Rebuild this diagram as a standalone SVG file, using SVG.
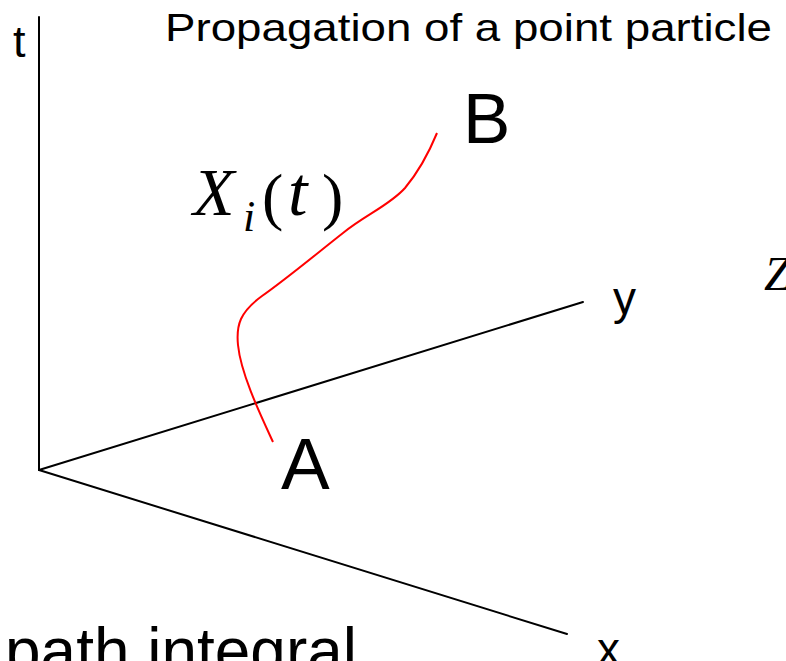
<svg xmlns="http://www.w3.org/2000/svg" width="786" height="661" viewBox="0 0 786 661">
<style>
.ax{stroke:#000;stroke-width:2;fill:none;stroke-linecap:round}
.lbl{font-family:"Liberation Sans",Arial,sans-serif;fill:#000}
.math{font-family:"Liberation Serif","Times New Roman",serif;fill:#000}
</style>
<rect width="786" height="661" fill="#fff"/>
<g id="axes">
<line class="ax" x1="39" y1="17" x2="39" y2="470"/>
<line class="ax" x1="39" y1="470" x2="583" y2="302"/>
<line class="ax" x1="39" y1="470" x2="567" y2="634"/>
</g>
<g id="path">
<path d="M273,442 C262,418 241,375 238,345 C236,325 240,312 262,296 C285,280 315,255 343,233 C365,215 390,205 405,188 C420,170 430,150 437,133" fill="none" stroke="#f00" stroke-width="2"/>
</g>
<g id="title"><text class="lbl" x="165" y="41" font-size="39" textLength="607" lengthAdjust="spacingAndGlyphs">Propagation of a point particle</text></g>
<g id="t-label"><text class="lbl" x="13" y="57" font-size="45">t</text></g>
<g id="y-label"><text class="lbl" x="613" y="314" font-size="46">y</text></g>
<g id="x-label"><text class="lbl" x="597" y="665" font-size="46">x</text></g>
<g id="B"><text class="lbl" x="463" y="143" font-size="71">B</text></g>
<g id="A"><text class="lbl" x="281" y="489" font-size="73">A</text></g>
<g id="Xi"><text class="math" font-size="64"><tspan x="193" y="215" font-style="italic" font-size="68">X</tspan><tspan x="243" y="231" font-size="44" font-style="italic">i</tspan><tspan x="262" y="218">(</tspan><tspan x="288" y="215" font-style="italic" font-size="70">t</tspan><tspan x="322" y="218">)</tspan></text></g>
<g id="Z"><text class="math" x="764" y="290" font-size="48" font-style="italic">Z</text></g>
<g id="bottom"><text class="lbl" x="5" y="673" font-size="64" textLength="352" lengthAdjust="spacingAndGlyphs">path integral</text></g>
</svg>
